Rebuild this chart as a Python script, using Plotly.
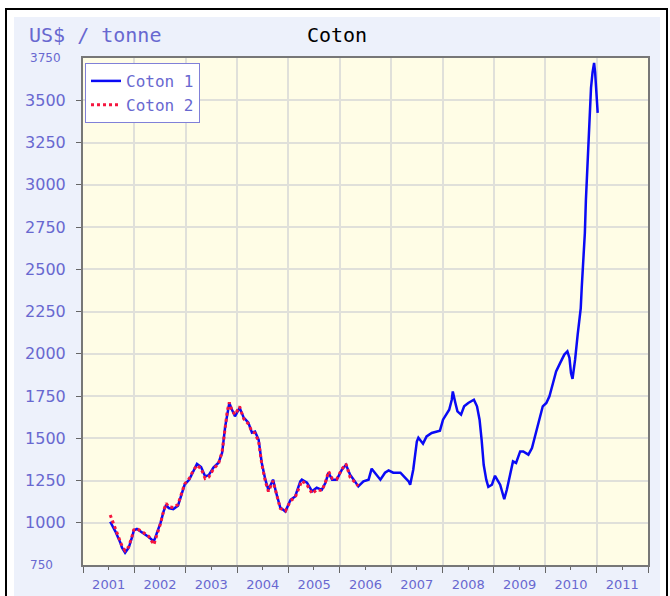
import plotly.graph_objects as go
from datetime import datetime

# ---------------- data ----------------
years1 = [2001.53, 2001.63, 2001.73, 2001.76, 2001.82, 2001.89, 2001.96, 2001.99, 2002.05, 2002.15,
          2002.28, 2002.38, 2002.44, 2002.51, 2002.57, 2002.62, 2002.67, 2002.76, 2002.85, 2002.91,
          2002.98, 2003.07, 2003.15, 2003.22, 2003.30, 2003.38, 2003.45, 2003.54, 2003.64, 2003.71,
          2003.77, 2003.81, 2003.85, 2003.90, 2003.96, 2004.05, 2004.13, 2004.22, 2004.29, 2004.35,
          2004.42, 2004.48, 2004.55, 2004.61, 2004.70, 2004.76, 2004.84, 2004.94, 2005.04, 2005.13,
          2005.23, 2005.26, 2005.36, 2005.46, 2005.55, 2005.65, 2005.72, 2005.78, 2005.85, 2005.94,
          2006.04, 2006.12, 2006.20, 2006.27, 2006.36, 2006.46, 2006.56, 2006.62, 2006.69, 2006.79,
          2006.88, 2006.95, 2007.04, 2007.18, 2007.27, 2007.34, 2007.37, 2007.43, 2007.50, 2007.53,
          2007.62, 2007.69, 2007.79, 2007.89, 2007.95, 2008.01, 2008.08, 2008.13, 2008.18, 2008.20,
          2008.25, 2008.29, 2008.36, 2008.42, 2008.50, 2008.61, 2008.67, 2008.72, 2008.76, 2008.80,
          2008.85, 2008.89, 2008.96, 2009.02, 2009.12, 2009.20, 2009.25, 2009.32, 2009.37, 2009.43,
          2009.51, 2009.57, 2009.67, 2009.74, 2009.80, 2009.89, 2009.95, 2010.02, 2010.08, 2010.15,
          2010.21, 2010.29, 2010.37, 2010.43, 2010.47, 2010.50, 2010.53, 2010.58, 2010.61, 2010.63,
          2010.66, 2010.69, 2010.71, 2010.74, 2010.77, 2010.79, 2010.82, 2010.84, 2010.87, 2010.89,
          2010.92, 2010.95, 2010.97, 2010.99, 2011.00, 2011.02]
coton1 = [1006, 949, 880, 852, 823, 852, 919, 955, 963, 943,
          916, 890, 939, 999, 1067, 1107, 1087, 1081, 1101, 1156,
          1225, 1255, 1304, 1348, 1330, 1274, 1282, 1326, 1355, 1414,
          1570, 1650, 1709, 1670, 1630, 1680, 1622, 1592, 1533, 1540,
          1491, 1355, 1255, 1195, 1255, 1178, 1090, 1067, 1136, 1156,
          1245, 1255, 1237, 1186, 1207, 1195, 1237, 1296, 1255, 1255,
          1314, 1343, 1284, 1255, 1215, 1245, 1255, 1320, 1296, 1255,
          1296, 1310, 1296, 1296, 1267, 1245, 1225, 1314, 1481, 1503,
          1468, 1511, 1531, 1540, 1545, 1610, 1640, 1669, 1728, 1777,
          1709, 1659, 1640, 1689, 1709, 1728, 1689, 1610, 1491, 1343,
          1255, 1212, 1225, 1278, 1225, 1140, 1195, 1304, 1363, 1354,
          1422, 1422, 1403, 1442, 1511, 1610, 1689, 1709, 1748, 1827,
          1896, 1946, 1995, 2014, 1975, 1886, 1851, 1965, 2036, 2113,
          2191, 2270, 2395, 2553, 2714, 2906, 3113, 3326, 3474, 3573,
          3665, 3721, 3665, 3573, 3484, 3425]

years2 = years1[:65]
coton2 = [1046, 965, 895, 862, 835, 858, 925, 958, 965, 948,
          920, 870, 930, 995, 1070, 1115, 1095, 1090, 1108, 1165,
          1230, 1262, 1310, 1340, 1320, 1262, 1270, 1318, 1350, 1420,
          1575, 1660, 1712, 1665, 1640, 1688, 1615, 1585, 1540, 1530,
          1480, 1350, 1245, 1185, 1248, 1170, 1085, 1070, 1130, 1150,
          1235, 1248, 1225, 1172, 1195, 1190, 1240, 1305, 1262, 1258,
          1318, 1348, 1270, 1245, 1218]

y_ticks = [1000, 1250, 1500, 1750, 2000, 2250, 2500, 2750, 3000, 3250, 3500]
y_min, y_max = 750, 3750
x_start, x_end = "2001-01-01", "2012-01-01"

# ---------------- helpers ----------------
def yr2date(v):
    y = int(v)
    a = datetime(y, 1, 1)
    b = datetime(y + 1, 1, 1)
    return a + (b - a) * (v - y)

W, H = 670, 596
L, R, T, B = 83, 22, 58, 31
PW, PH = W - L - R, H - T - B

def px(x):
    return (x - L) / PW

def py(y):
    return 1 - (y - T) / PH

TXT = "#6868D0"

fig = go.Figure()
fig.add_trace(go.Scatter(x=[yr2date(v) for v in years1], y=coton1, mode="lines", name="Coton 1",
                         line=dict(color="#0A0AF5", width=2.5)))
fig.add_trace(go.Scatter(x=[yr2date(v) for v in years2], y=coton2, mode="lines", name="Coton 2",
                         line=dict(color="#F5163F", width=3, dash="dot")))

fig.update_layout(
    width=W, height=H,
    margin=dict(l=L, r=R, t=T, b=B, pad=0, autoexpand=False),
    paper_bgcolor="white",
    plot_bgcolor="rgba(0,0,0,0)",
    showlegend=True,
    legend=dict(x=px(85), y=py(63), xanchor="left", yanchor="top",
                bgcolor="white", bordercolor="#8080D8", borderwidth=1,
                font=dict(family="DejaVu Sans Mono", size=16, color=TXT),
                tracegroupgap=0, itemwidth=30),
    title=dict(text="Coton", x=337 / W, xref="container", xanchor="center",
               y=1 - 35 / H, yref="container", yanchor="middle",
               font=dict(family="DejaVu Sans Mono", size=20, color="black")),
    xaxis=dict(type="date", range=[x_start, x_end], tick0="2001-01-01", dtick="M12",
               tickformat="%Y", ticklabelmode="period", automargin=False,
               ticks="outside", ticklen=6, tickwidth=1, tickcolor="#666",
               ticklabelstandoff=0,
               minor=dict(dtick="M6", ticks="outside", ticklen=3, tickcolor="#666", showgrid=False),
               showgrid=True, gridcolor="#E0E0DA", gridwidth=2,
               showline=True, linecolor="#777", linewidth=2, mirror=True,
               tickfont=dict(family="DejaVu Sans", size=13, color=TXT),
               zeroline=False),
    yaxis=dict(range=[y_min, y_max], tickvals=y_ticks, ticktext=[str(v) for v in y_ticks],
               automargin=False,
               ticks="outside", ticklen=5, tickwidth=1, tickcolor="#666",
               ticklabelstandoff=7,
               showgrid=True, gridcolor="#E0E0DA", gridwidth=2,
               showline=True, linecolor="#777", linewidth=2, mirror=True,
               tickfont=dict(family="DejaVu Sans", size=16, color=TXT),
               zeroline=False),
    shapes=[
        dict(type="rect", xref="paper", yref="paper", x0=px(14), x1=px(660), y0=py(600), y1=py(17),
             fillcolor="#EDF1FB", line=dict(width=0), layer="below"),
        dict(type="rect", xref="paper", yref="paper", x0=0, x1=1, y0=0, y1=1,
             fillcolor="#FFFDE6", line=dict(width=0), layer="below"),
        dict(type="rect", xref="paper", yref="paper", x0=px(6), x1=px(667), y0=py(605), y1=py(9),
             fillcolor="rgba(0,0,0,0)", line=dict(color="black", width=2), layer="below"),
    ],
    annotations=[
        dict(text="US$ / tonne", xref="paper", yref="paper", x=px(27), y=py(35),
             xanchor="left", yanchor="middle", showarrow=False,
             font=dict(family="DejaVu Sans Mono", size=20, color=TXT)),
        dict(text=str(y_max), xref="paper", yref="y", x=px(28), y=y_max,
             xanchor="left", yanchor="middle", showarrow=False,
             font=dict(family="DejaVu Sans", size=12, color=TXT)),
        dict(text=str(y_min), xref="paper", yref="y", x=px(28), y=y_min,
             xanchor="left", yanchor="middle", showarrow=False,
             font=dict(family="DejaVu Sans", size=12, color=TXT)),
    ],
)

fig.write_html("out.html", config={"displayModeBar": False},
               post_script="document.body.style.margin='0';")
